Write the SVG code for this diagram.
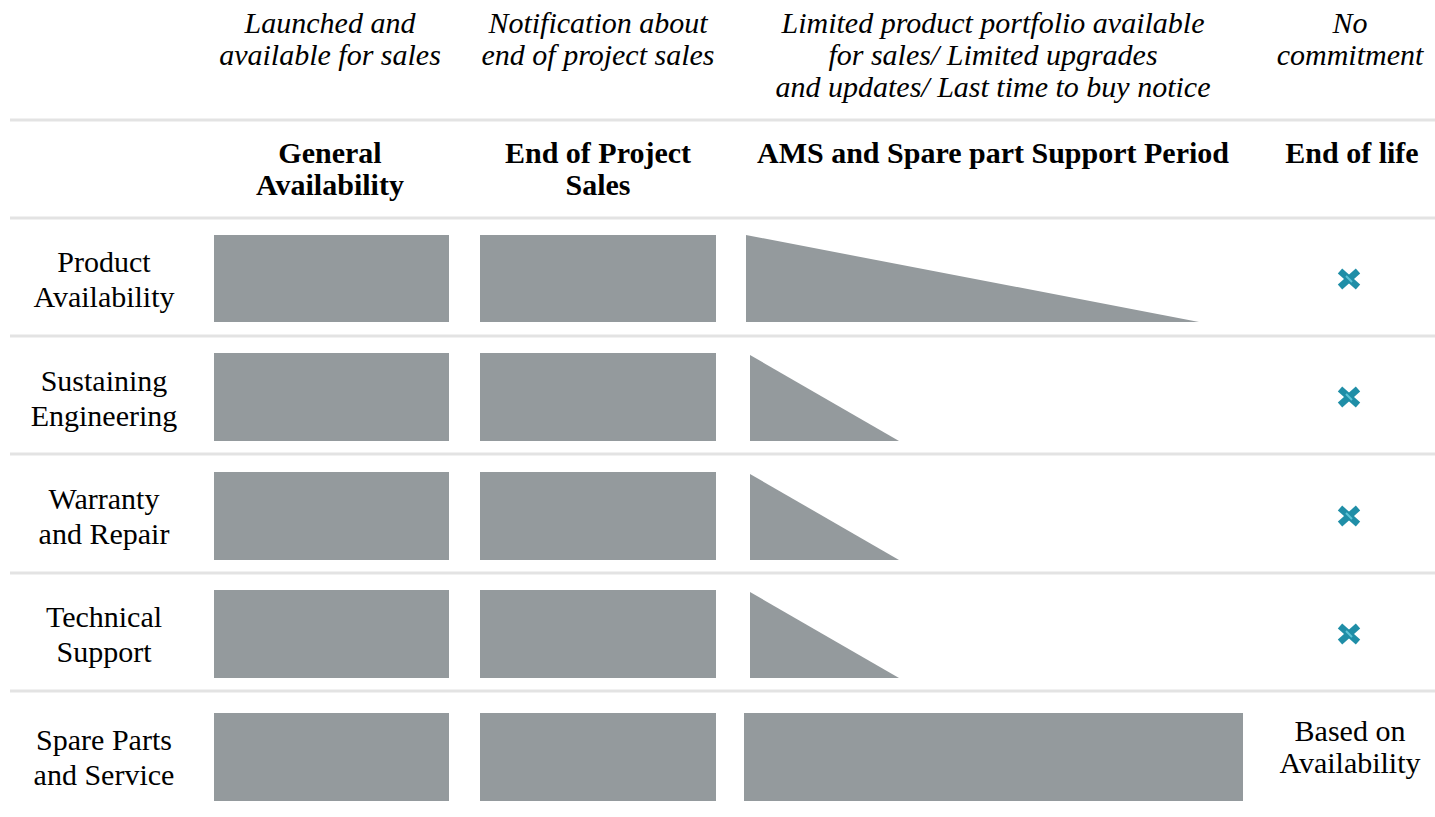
<svg xmlns="http://www.w3.org/2000/svg" width="1435" height="817" viewBox="0 0 1435 817">
<style>
.bg{fill:#ffffff}
.bar{fill:#949a9d}
.sep{stroke:#e3e3e3;stroke-width:3;fill:none}
.it{font-family:"Liberation Serif","Times New Roman",Times,serif;font-style:italic;font-size:30px;fill:#000;text-anchor:middle}
.hd{font-family:"Liberation Serif","Times New Roman",Times,serif;font-weight:bold;font-size:30px;fill:#000;text-anchor:middle}
.lb{font-family:"Liberation Serif","Times New Roman",Times,serif;font-size:30px;fill:#000;text-anchor:middle}
.xm{stroke:#1f8ea7;stroke-width:6.5;stroke-linecap:butt}
.xh{stroke:#5ec3d6;stroke-width:2}
</style>
<defs>
<g id="cross">
<line class="xm" x1="-9" y1="-8" x2="9" y2="8"/>
<line class="xm" x1="9" y1="-8" x2="-9" y2="8"/>
<line class="xh" x1="-3" y1="-3" x2="3" y2="3"/>
</g>
</defs>
<rect class="bg" x="0" y="0" width="1435" height="817"/>

<g id="separators">
<line class="sep" x1="10" y1="120" x2="1435" y2="120"/>
<line class="sep" x1="10" y1="218" x2="1435" y2="218"/>
<line class="sep" x1="10" y1="336" x2="1435" y2="336"/>
<line class="sep" x1="10" y1="454" x2="1435" y2="454"/>
<line class="sep" x1="10" y1="573" x2="1435" y2="573"/>
<line class="sep" x1="10" y1="691" x2="1435" y2="691"/>
</g>

<g id="phase-descriptions">
<text class="it" x="330" y="33">Launched and</text>
<text class="it" x="330" y="65">available for sales</text>
<text class="it" x="598" y="33">Notification about</text>
<text class="it" x="598" y="65">end of project sales</text>
<text class="it" x="993" y="33">Limited product portfolio available</text>
<text class="it" x="993" y="65">for sales/ Limited upgrades</text>
<text class="it" x="993" y="97">and updates/ Last time to buy notice</text>
<text class="it" x="1350" y="33">No</text>
<text class="it" x="1350" y="65">commitment</text>
</g>

<g id="phase-headers">
<text class="hd" x="330" y="163">General</text>
<text class="hd" x="330" y="195">Availability</text>
<text class="hd" x="598" y="163">End of Project</text>
<text class="hd" x="598" y="195">Sales</text>
<text class="hd" x="993" y="163">AMS and Spare part Support Period</text>
<text class="hd" x="1352" y="163">End of life</text>
</g>

<g id="row-product-availability">
<text class="lb" x="104" y="272">Product</text>
<text class="lb" x="104" y="307">Availability</text>
<rect class="bar" x="214" y="235" width="235" height="87"/>
<rect class="bar" x="480" y="235" width="236" height="87"/>
<polygon class="bar" points="746,235 1199,322 746,322"/>
<use href="#cross" x="1349" y="279"/>
</g>

<g id="row-sustaining-engineering">
<text class="lb" x="104" y="391">Sustaining</text>
<text class="lb" x="104" y="426">Engineering</text>
<rect class="bar" x="214" y="353" width="235" height="88"/>
<rect class="bar" x="480" y="353" width="236" height="88"/>
<polygon class="bar" points="750,355 899,441 750,441"/>
<use href="#cross" x="1349" y="397"/>
</g>

<g id="row-warranty-repair">
<text class="lb" x="104" y="509">Warranty</text>
<text class="lb" x="104" y="544">and Repair</text>
<rect class="bar" x="214" y="472" width="235" height="88"/>
<rect class="bar" x="480" y="472" width="236" height="88"/>
<polygon class="bar" points="750,474 899,560 750,560"/>
<use href="#cross" x="1349" y="516"/>
</g>

<g id="row-technical-support">
<text class="lb" x="104" y="627">Technical</text>
<text class="lb" x="104" y="662">Support</text>
<rect class="bar" x="214" y="590" width="235" height="88"/>
<rect class="bar" x="480" y="590" width="236" height="88"/>
<polygon class="bar" points="750,592 899,678 750,678"/>
<use href="#cross" x="1349" y="634"/>
</g>

<g id="row-spare-parts">
<text class="lb" x="104" y="750">Spare Parts</text>
<text class="lb" x="104" y="785">and Service</text>
<rect class="bar" x="214" y="713" width="235" height="88"/>
<rect class="bar" x="480" y="713" width="236" height="88"/>
<rect class="bar" x="744" y="713" width="499" height="88"/>
<text class="lb" x="1350" y="741">Based on</text>
<text class="lb" x="1350" y="773">Availability</text>
</g>
</svg>
